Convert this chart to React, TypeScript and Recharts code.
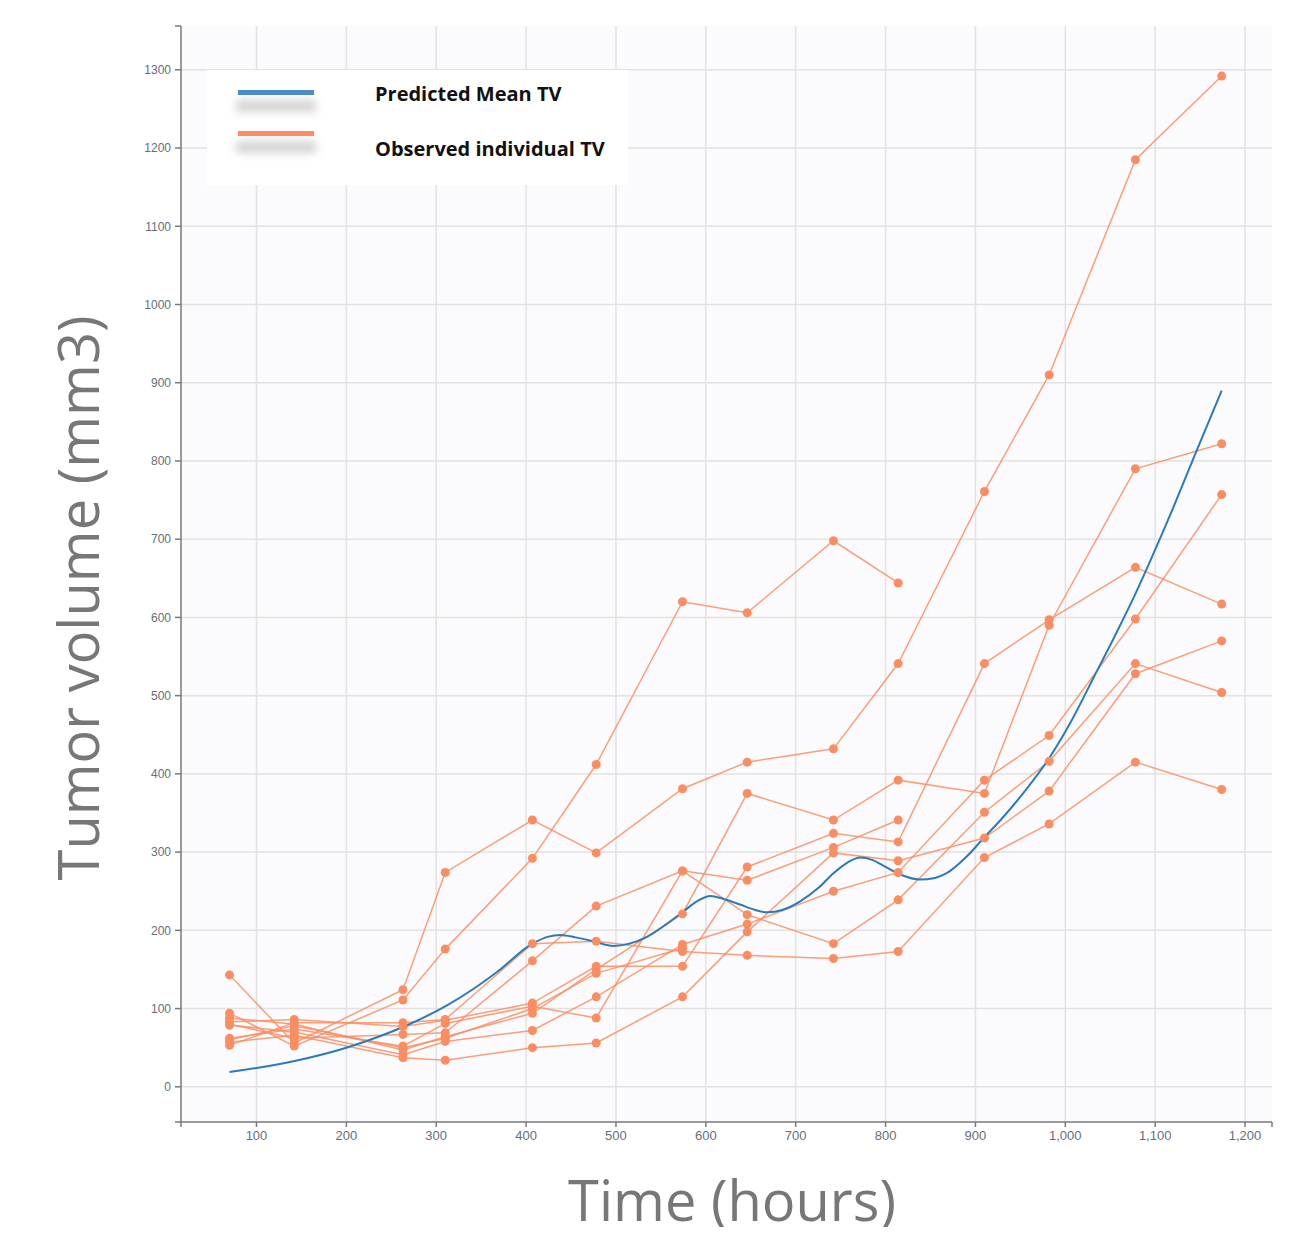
import { LineChart, Line, XAxis, YAxis, CartesianGrid } from 'recharts'

// sampling times (hours) shared by every animal
const TIMES = [70, 142, 263, 310, 407, 478, 574, 646, 742, 814, 910, 982, 1078, 1174]

// observed tumor volume per animal (mm3), null = no measurement
const TV_1 = [143, 56, 124, 274, 341, 299, 381, 415, 432, 541, 761, 910, 1185, 1292]
const TV_2 = [94, 52, 111, 176, 292, 412, 620, 606, 698, 644, null, null, null, null]
const TV_3 = [88, 80, 47, 64, 94, 150, 221, 375, 341, 392, 375, 590, 790, 822]
const TV_4 = [83, 86, 77, 85, 107, 154, 154, 281, 324, 313, 541, 597, 664, 617]
const TV_5 = [79, 70, 41, 58, 72, 115, 182, 208, 250, 274, 392, 449, 598, 757]
const TV_6 = [62, 74, 52, 81, 103, 88, 276, 220, 183, 239, 351, 416, 541, 504]
const TV_7 = [57, 66, 37, 34, 50, 56, 115, 198, 299, 289, 318, 378, 528, 570]
const TV_8 = [53, 82, 82, 86, 183, 186, 173, 168, 164, 173, 293, 336, 415, 380]
const TV_9 = [80, 62, 67, 69, 161, 231, 276, 264, 306, 341, null, null, null, null]
const TV_10 = [60, 78, 50, 62, 100, 145, 177, null, null, null, null, null, null, null]

const INDIVIDUALS = [TV_1, TV_2, TV_3, TV_4, TV_5, TV_6, TV_7, TV_8, TV_9, TV_10]

// predicted mean curve
const PRED_T = [70, 100, 150, 200, 238, 270, 312, 340, 368, 407, 425, 438, 455, 475, 497, 515, 535, 555, 575, 590, 605, 620, 638, 655, 668, 685, 705, 725, 742, 758, 772, 785, 800, 815, 838, 855, 868, 890, 910, 928, 955, 982, 1005, 1031, 1055, 1078, 1096, 1120, 1145, 1174]
const PRED_V = [19, 24, 35, 50, 65, 80, 104, 124, 147, 183, 192, 194, 191, 186, 180, 183, 192, 207, 224, 237, 244, 240, 233, 226, 223, 226, 237, 254, 273, 287, 293, 290, 281, 272, 265, 267, 273, 294, 319, 341, 378, 420, 464, 522, 576, 630, 676, 740, 810, 890]

const X_TICKS = [100, 200, 300, 400, 500, 600, 700, 800, 900, 1000, 1100, 1200]
const Y_TICKS = [0, 100, 200, 300, 400, 500, 600, 700, 800, 900, 1000, 1100, 1200, 1300]
const X_DOMAIN = [16, 1230]
const Y_DOMAIN = [-45, 1356]

const ORANGE = '#fc8d62'
const BLUE = '#2b7bba'
const AXIS = '#7a7a7a'
const TICK_FONT = '"Liberation Sans", Arial, sans-serif'
const TITLE_FONT = '"Open Sans", "Noto Sans", sans-serif'

function buildRows() {
  const byT = new Map<number, Record<string, number | null>>()
  const row = (t: number) => {
    if (!byT.has(t)) byT.set(t, { t })
    return byT.get(t)!
  }
  TIMES.forEach((t, j) => {
    const r = row(t)
    INDIVIDUALS.forEach((s, i) => { r[`m${i}`] = s[j] })
  })
  PRED_T.forEach((t, j) => { row(t).pred = PRED_V[j] })
  return Array.from(byT.values()).sort((a, b) => (a.t as number) - (b.t as number))
}

const rows = buildRows()

// end ticks are the axis "outer" ticks, with no label
const xAxisTicks = [X_DOMAIN[0], ...X_TICKS, X_DOMAIN[1]]
const yAxisTicks = [Y_DOMAIN[0], ...Y_TICKS, Y_DOMAIN[1]]
const fmtX = (v: number) => (X_TICKS.includes(v) ? v.toLocaleString('en-US') : '')
const fmtY = (v: number) => (Y_TICKS.includes(v) ? String(v) : '')

function LegendBox() {
  const item = (color: string, label: string, top: number, textTop: number) => (
    <>
      <div style={{ position: 'absolute', left: 29, top: top + 10, width: 80, height: 12, background: 'rgba(0,0,0,0.17)', filter: 'blur(4px)' }} />
      <div style={{ position: 'absolute', left: 31, top, width: 76, height: 5, background: color }} />
      <div style={{
        position: 'absolute', left: 168, top: textTop, lineHeight: '20px', fontSize: 20,
        fontWeight: 700, fontFamily: TITLE_FONT, color: '#111', whiteSpace: 'nowrap',
      }}>{label}</div>
    </>
  )
  return (
    <div style={{ position: 'absolute', left: 199, top: 62, width: 421, height: 115, background: '#fff' }}>
      {item('#4a8cc8', 'Predicted Mean TV', 20, 14)}
      {item(ORANGE, 'Observed individual TV', 61, 69)}
    </div>
  )
}

export default function App() {
  return (
    <div style={{ position: 'relative', width: 1296, height: 1219 }}>
      <LineChart
        width={1296}
        height={1160}
        data={rows}
        margin={{ top: 18, right: 32, bottom: 16, left: 113 }}
      >
        <CartesianGrid
          fill="#fbfbfd"
          stroke="#e2e2e2"
          strokeWidth={1.5}
          horizontalValues={Y_TICKS}
          verticalValues={X_TICKS}
        />
        <XAxis
          dataKey="t"
          type="number"
          domain={X_DOMAIN}
          ticks={xAxisTicks}
          interval={0}
          allowDataOverflow
          tickFormatter={fmtX}
          height={30}
          tickSize={5}
          tickMargin={4}
          axisLine={{ stroke: AXIS, strokeWidth: 1.5 }}
          tickLine={{ stroke: AXIS, strokeWidth: 1.5 }}
          tick={{ fontSize: 13, fill: '#666e7a', fontFamily: TICK_FONT }}
        />
        <YAxis
          type="number"
          domain={Y_DOMAIN}
          ticks={yAxisTicks}
          interval={0}
          allowDataOverflow
          tickFormatter={fmtY}
          width={60}
          tickSize={6}
          tickMargin={4}
          axisLine={{ stroke: AXIS, strokeWidth: 1.5 }}
          tickLine={{ stroke: AXIS, strokeWidth: 1.5 }}
          tick={{ fontSize: 12, fill: '#666e7a', fontFamily: TICK_FONT }}
        />
        {INDIVIDUALS.map((_, i) => (
          <Line
            key={i}
            type="linear"
            dataKey={`m${i}`}
            stroke={ORANGE}
            strokeOpacity={0.85}
            strokeWidth={1.5}
            dot={{ r: 4.5, fill: ORANGE, stroke: 'none' }}
            activeDot={false}
            connectNulls
            isAnimationActive={false}
          />
        ))}
        <Line
          type="monotone"
          dataKey="pred"
          stroke={BLUE}
          strokeWidth={2}
          dot={false}
          activeDot={false}
          connectNulls
          isAnimationActive={false}
        />
      </LineChart>

      <LegendBox />

      <div style={{
        position: 'absolute', left: 69, top: 590, width: 800, height: 56, lineHeight: '56px',
        fontSize: 56, fontFamily: TITLE_FONT, color: '#777', textAlign: 'center', whiteSpace: 'nowrap',
        transform: 'translate(-50%, -50%) rotate(-90deg)',
      }}>Tumor volume (mm3)</div>

      <div style={{
        position: 'absolute', left: 324, top: 1163, width: 800, height: 56, lineHeight: '56px',
        fontSize: 56, fontFamily: TITLE_FONT, color: '#777', textAlign: 'center', whiteSpace: 'nowrap',
      }}>Time (hours)</div>
    </div>
  )
}
